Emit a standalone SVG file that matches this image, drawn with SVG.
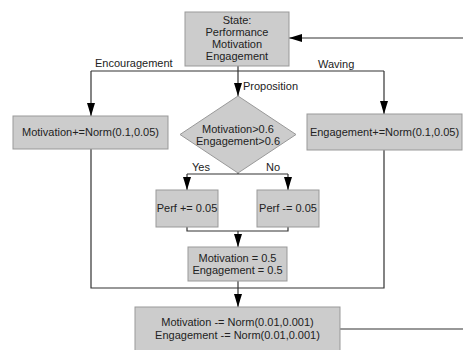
<svg xmlns="http://www.w3.org/2000/svg" width="463" height="350" viewBox="0 0 463 350">
<style>
.box{fill:#cccccc;stroke:#999999;stroke-width:1}
.ln{fill:none;stroke:#333333;stroke-width:1.2}
.arr{marker-end:url(#ah)}
text{font-family:"Liberation Sans",Arial,sans-serif;font-size:11px;fill:#222222}
.c{text-anchor:middle}
</style>
<defs>
<marker id="ah" markerWidth="13" markerHeight="8" refX="13" refY="4" orient="auto" markerUnits="userSpaceOnUse" viewBox="0 0 13 8">
<path d="M0,0 L13,4 L0,8 Z" fill="#000"/>
</marker>
</defs>
<g id="connectors">
<path class="ln arr" d="M463,38 H289"/>
<path class="ln arr" d="M238,66 V96"/>
<path class="ln" d="M91,71 H384"/>
<path class="ln arr" d="M91,71 V116"/>
<path class="ln arr" d="M384,71 V114"/>
<path class="ln" d="M238,173 V174"/>
<path class="ln" d="M187,174 H288"/>
<path class="ln arr" d="M187,174 V190"/>
<path class="ln arr" d="M288,174 V190"/>
<path class="ln" d="M187,227 V231 H288 V227"/>
<path class="ln arr" d="M238,231 V247"/>
<path class="ln" d="M91,149 V288 H384 V150"/>
<path class="ln" d="M238,281 V288"/>
<path class="ln arr" d="M238,288 V307"/>
<path class="ln" d="M340,329 H463"/>
<text x="95" y="67">Encouragement</text>
<text x="318" y="68">Waving</text>
<text x="243" y="90">Proposition</text>
<text x="192" y="171">Yes</text>
<text x="266" y="171">No</text>
</g>
<g id="state">
<rect class="box" x="185" y="12" width="104" height="54"/>
<text class="c" x="237" y="24">State:</text>
<text class="c" x="237" y="36">Performance</text>
<text class="c" x="237" y="48">Motivation</text>
<text class="c" x="237" y="60">Engagement</text>
</g>
<g id="motivation-inc">
<rect class="box" x="13" y="116" width="155" height="33"/>
<text class="c" x="90.5" y="136">Motivation+=Norm(0.1,0.05)</text>
</g>
<g id="engagement-inc">
<rect class="box" x="307" y="114" width="155" height="36"/>
<text class="c" x="384.5" y="136">Engagement+=Norm(0.1,0.05)</text>
</g>
<g id="decision">
<polygon class="box" points="238,96 296,134.5 238,173 180,134.5"/>
<text class="c" x="238" y="133">Motivation&gt;0.6</text>
<text class="c" x="238" y="145">Engagement&gt;0.6</text>
</g>
<g id="perf-inc">
<rect class="box" x="156" y="190" width="62" height="37"/>
<text class="c" x="187" y="212">Perf += 0.05</text>
</g>
<g id="perf-dec">
<rect class="box" x="257" y="190" width="62" height="37"/>
<text class="c" x="288" y="212">Perf -= 0.05</text>
</g>
<g id="reset">
<rect class="box" x="188" y="247" width="99" height="34"/>
<text class="c" x="237.5" y="262">Motivation = 0.5</text>
<text class="c" x="237.5" y="274">Engagement = 0.5</text>
</g>
<g id="decay">
<rect class="box" x="135" y="307" width="205" height="50"/>
<text class="c" x="237.5" y="326">Motivation -= Norm(0.01,0.001)</text>
<text class="c" x="237.5" y="339">Engagement -= Norm(0.01,0.001)</text>
</g>
</svg>
